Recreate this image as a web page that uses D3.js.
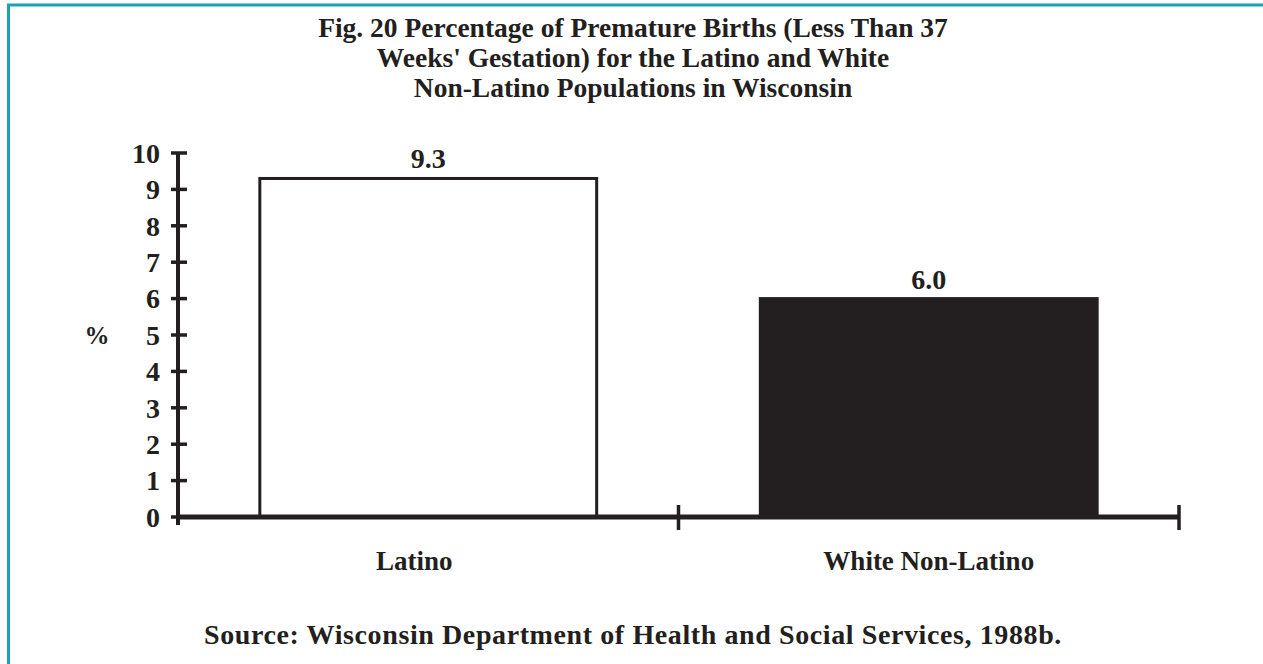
<!DOCTYPE html>
<html>
<head>
<meta charset="utf-8">
<script src="https://cdn.jsdelivr.net/npm/d3@7/dist/d3.min.js"></script>
<style>
  html, body { margin: 0; padding: 0; background: #ffffff; }
  svg { display: block; }
  text { font-family: "Liberation Serif", "Times New Roman", serif; fill: #231f20; }
</style>
</head>
<body>
<svg id="chart" width="1263" height="664"></svg>
<script>
// Chart data
const categories = ["Latino", "White Non-Latino"];
const values = [9.3, 6.0];
const valueLabels = ["9.3", "6.0"];
const yTicks = [0, 1, 2, 3, 4, 5, 6, 7, 8, 9, 10];
const titleLines = [
  "Fig. 20 Percentage of Premature Births (Less Than 37",
  "Weeks' Gestation) for the Latino and White",
  "Non-Latino Populations in Wisconsin"
];
const sourceText = "Source: Wisconsin Department of Health and Social Services, 1988b.";
const barFills = ["#ffffff", "#231f20"];

const ink = "#231f20";
const svg = d3.select("#chart");

// Teal frame
svg.append("rect")
  .attr("x", 8.5).attr("y", 5)
  .attr("width", 1300).attr("height", 700)
  .attr("fill", "none")
  .attr("stroke", "#17a4b4")
  .attr("stroke-width", 3);

// Title
const title = svg.append("text")
  .attr("text-anchor", "middle")
  .attr("font-weight", "bold")
  .attr("font-size", 27.5);
titleLines.forEach((line, i) => {
  title.append("tspan").attr("x", 633).attr("y", 37 + i * 30).text(line);
});

// Scales
const plot = { left: 178, right: 1179, top: 153, bottom: 517 };
const x = d3.scaleBand()
  .domain(categories)
  .range([plot.left, plot.right])
  .paddingInner(0.327)
  .paddingOuter(0.1635);
const y = d3.scaleLinear().domain([0, 10]).range([plot.bottom, plot.top]);

// Bars
svg.selectAll("rect.bar")
  .data(categories)
  .join("rect")
  .attr("class", "bar")
  .attr("x", d => x(d))
  .attr("y", (d, i) => y(values[i]))
  .attr("width", x.bandwidth())
  .attr("height", (d, i) => y(0) - y(values[i]))
  .attr("fill", (d, i) => barFills[i])
  .attr("stroke", ink)
  .attr("stroke-width", 3);

// Value labels
svg.selectAll("text.value")
  .data(categories)
  .join("text")
  .attr("class", "value")
  .attr("x", d => x(d) + x.bandwidth() / 2)
  .attr("y", (d, i) => y(values[i]) - 10)
  .attr("text-anchor", "middle")
  .attr("font-weight", "bold")
  .attr("font-size", 28)
  .text((d, i) => valueLabels[i]);

// Y axis
const yAxis = svg.append("g");
yAxis.append("line")
  .attr("x1", plot.left).attr("x2", plot.left)
  .attr("y1", y(10)).attr("y2", plot.bottom + 8)
  .attr("stroke", ink).attr("stroke-width", 4);
yAxis.selectAll("line.tick")
  .data(yTicks)
  .join("line")
  .attr("class", "tick")
  .attr("x1", plot.left - 7).attr("x2", plot.left + 9)
  .attr("y1", d => y(d)).attr("y2", d => y(d))
  .attr("stroke", ink).attr("stroke-width", 3.5);
yAxis.selectAll("text.tick")
  .data(yTicks)
  .join("text")
  .attr("class", "tick")
  .attr("x", plot.left - 18)
  .attr("y", d => y(d))
  .attr("dy", "0.35em")
  .attr("text-anchor", "end")
  .attr("font-weight", "bold")
  .attr("font-size", 28)
  .text(d => d);

// Y axis title
svg.append("text")
  .attr("x", 97).attr("y", y(5))
  .attr("dy", "0.35em")
  .attr("text-anchor", "middle")
  .attr("font-weight", "bold")
  .attr("font-size", 25)
  .text("%");

// X axis baseline and band-boundary ticks
const xAxis = svg.append("g");
xAxis.append("line")
  .attr("x1", plot.left - 2).attr("x2", plot.right)
  .attr("y1", plot.bottom).attr("y2", plot.bottom)
  .attr("stroke", ink).attr("stroke-width", 5);
const boundaries = [x.range()[0] + x.step(), x.range()[1]];
xAxis.selectAll("line.tick")
  .data(boundaries)
  .join("line")
  .attr("class", "tick")
  .attr("x1", d => d).attr("x2", d => d)
  .attr("y1", plot.bottom - 12).attr("y2", plot.bottom + 13)
  .attr("stroke", ink).attr("stroke-width", 3.5);
xAxis.selectAll("text.cat")
  .data(categories)
  .join("text")
  .attr("class", "cat")
  .attr("x", d => x(d) + x.bandwidth() / 2)
  .attr("dx", (d, i) => i === 0 ? -14 : 0)
  .attr("y", 570)
  .attr("text-anchor", "middle")
  .attr("font-weight", "bold")
  .attr("font-size", 27)
  .text(d => d);

// Source note
svg.append("text")
  .attr("x", 633).attr("y", 644)
  .attr("text-anchor", "middle")
  .attr("font-weight", "bold")
  .attr("font-size", 28)
  .attr("letter-spacing", 0.6)
  .text(sourceText);
</script>
</body>
</html>
